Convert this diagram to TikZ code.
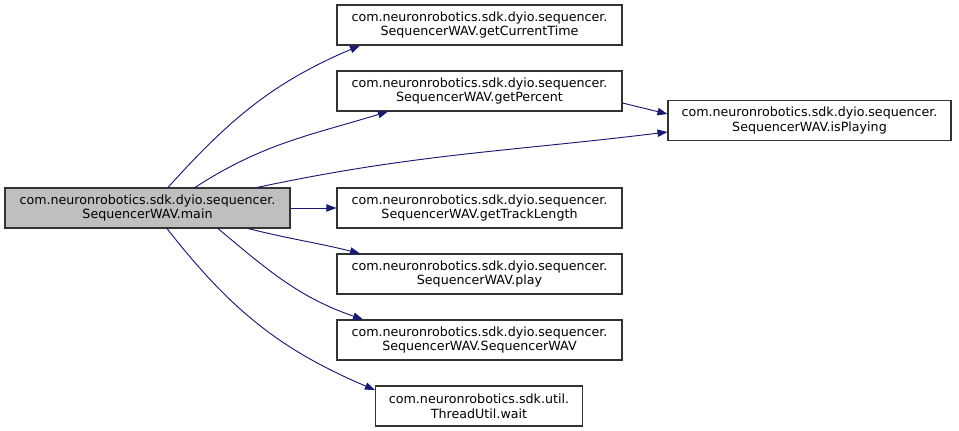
\documentclass[tikz,border=0pt]{standalone}
\usepackage{fontspec}
\setmainfont{DejaVu Sans}
\usetikzlibrary{arrows.meta,calc}
\definecolor{edgeblue}{HTML}{191970}
\definecolor{mainfill}{HTML}{BFBFBF}

\begin{document}
\begin{tikzpicture}[
  x=0.75pt, y=0.75pt,
  fn/.style={draw=black!80, line width=0.8pt, minimum width=213.75pt, minimum height=30pt,
    inner sep=0pt, align=center, font=\fontsize{9.5pt}{11.2pt}\selectfont},
  call/.style={-{Triangle[length=7.5pt,width=5.5pt]}, edgeblue, line width=0.7pt},
]
\useasboundingbox (0,0) rectangle (959,431);

% Caller
\node[fn, fill=mainfill] (main) at (147.5,223) {%
  com.neuronrobotics.sdk.dyio.sequencer.\\SequencerWAV.main};

% Callees
\node[fn] (cur) at (479.5,406) {%
  com.neuronrobotics.sdk.dyio.sequencer.\\SequencerWAV.getCurrentTime};
\node[fn] (pct) at (479.5,340) {%
  com.neuronrobotics.sdk.dyio.sequencer.\\SequencerWAV.getPercent};
\node[fn, minimum width=212.25pt] (isp) at (809.5,310.5) {%
  com.neuronrobotics.sdk.dyio.sequencer.\\SequencerWAV.isPlaying};
\node[fn] (len) at (479.5,223) {%
  com.neuronrobotics.sdk.dyio.sequencer.\\SequencerWAV.getTrackLength};
\node[fn] (play) at (479.5,157) {%
  com.neuronrobotics.sdk.dyio.sequencer.\\SequencerWAV.play};
\node[fn] (ctor) at (479.5,91) {%
  com.neuronrobotics.sdk.dyio.sequencer.\\SequencerWAV.SequencerWAV};
\node[fn, minimum width=155.25pt] (wait) at (479,25) {%
  com.neuronrobotics.sdk.util.\\ThreadUtil.wait};

% Arrows
\draw[call] ($(main.north)+(20.5,0)$) to[out=48,in=203] ($(cur.south)+(-119.5,0)$);
\draw[call] ($(main.north)+(47.5,0)$) to[out=33,in=197] ($(pct.south)+(-91.5,0)$);
\draw[call] ($(main.north)+(109.5,0)$) to[out=12,in=187] ($(isp.west)+(0,-11.5)$);
\draw[call] ($(pct.east)+(0,-12)$) -- ($(isp.west)+(0,6.5)$);
\draw[call] (main) -- (len);
\draw[call] ($(main.south)+(100.5,0)$) to[out=-14,in=166] ($(play.north)+(-119.5,0)$);
\draw[call] ($(main.south)+(70.5,0)$) to[out=-40,in=161] ($(ctor.north)+(-116.5,0)$);
\draw[call] ($(main.south)+(19.5,0)$) to[out=-52,in=157] ($(wait.west)+(0,16)$);

\end{tikzpicture}
\end{document}
